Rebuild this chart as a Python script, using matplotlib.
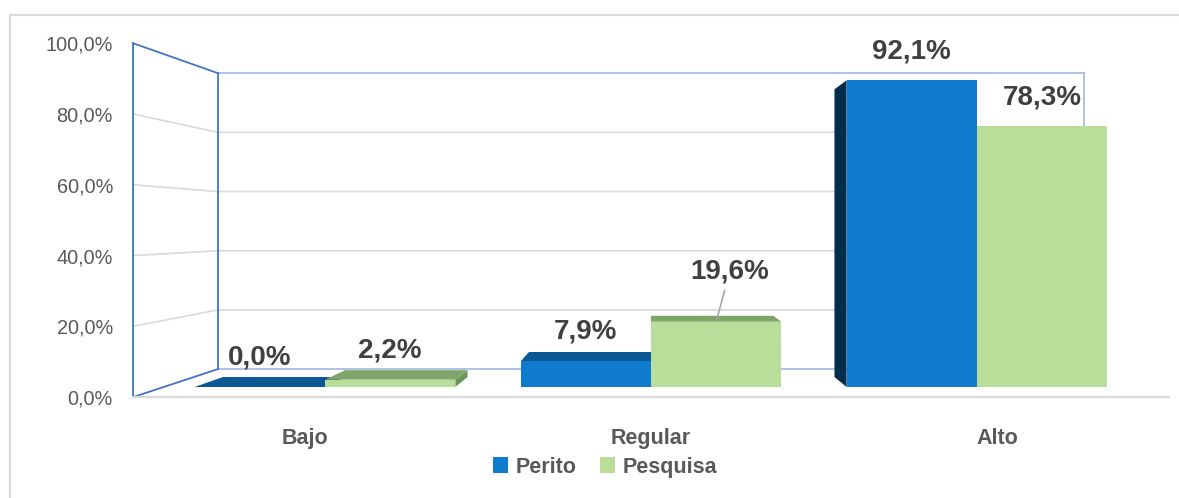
import matplotlib
matplotlib.use("Agg")
import matplotlib.pyplot as plt
from matplotlib.patches import Polygon, Patch
from matplotlib.lines import Line2D

# ---------------- data ----------------
categories = ["Bajo", "Regular", "Alto"]
perito = [0.0, 7.9, 92.1]
pesquisa = [2.2, 19.6, 78.3]
series_names = ["Perito", "Pesquisa"]
yticks = [0, 20, 40, 60, 80, 100]

# ---------------- style ----------------
plt.rcParams['font.family'] = ['Liberation Sans Narrow', 'Liberation Sans', 'DejaVu Sans']
C_PER = "#0F7BCE"
C_PER_TOP = "#0B5894"
C_PER_SIDE = "#022D4D"
C_PES = "#B8DE99"
C_PES_TOP = "#80A56B"
C_PES_SIDE = "#6C9657"
C_GRID = "#D9D9D9"
C_WALL = "#4472C4"
C_WALL2 = "#A9BDE3"
C_TXT = "#595959"
C_LBL = "#404040"

W, H = 1179, 498
fig = plt.figure(figsize=(W / 100, H / 100), dpi=100)
ax = fig.add_axes([0, 0, 1, 1])
# axes limits chosen so bars' front plane sits where the reference draws it
ax.set_xlim(-325 / 326, (W - 325) / 326)
ax.set_ylim((387 - H) / 3.33, 387 / 3.33)
ax.axis("off")

# perspective: vanishing point and depths (fraction toward the vanishing point)
VX, VY = 1.0, 48.3
D_FRONT, D_BACK = -0.063, 0.111
D_BAR = 0.062
XL, XR = -0.495, 2.495


def proj(x, y, d):
    return (VX + (1 - d) * (x - VX), VY + (1 - d) * (y - VY))


# ---------------- walls & gridlines ----------------
for v in yticks:
    fl = proj(XL, v, D_FRONT)
    bl = proj(XL, v, D_BACK)
    br = proj(XR, v, D_BACK)
    if v in (0, 100):
        ax.plot([fl[0], bl[0]], [fl[1], bl[1]], color=C_WALL, lw=1.3, zorder=2)
        ax.plot([bl[0], br[0]], [bl[1], br[1]], color=C_WALL2, lw=1.3, zorder=1)
    else:
        ax.plot([fl[0], bl[0], br[0]], [fl[1], bl[1], br[1]], color=C_GRID, lw=1.2, zorder=1)

# vertical wall edges
for d, c in ((D_FRONT, C_WALL), (D_BACK, C_WALL)):
    p0, p1 = proj(XL, 0, d), proj(XL, 100, d)
    ax.plot([p0[0], p1[0]], [p0[1], p1[1]], color=c, lw=1.3, zorder=2)
p0, p1 = proj(XR, 0, D_BACK), proj(XR, 100, D_BACK)
ax.plot([p0[0], p1[0]], [p0[1], p1[1]], color=C_WALL2, lw=1.3, zorder=1)

# floor front edge (category axis line)
p0, p1 = proj(XL, 0, D_FRONT), proj(XR, 0, D_FRONT)
ax.plot([p0[0], p1[0]], [p0[1], p1[1]], color=C_GRID, lw=1.6, zorder=2)

# ---------------- bars ----------------
bw = 0.4
xs = list(range(len(categories)))
series = [
    (perito, -bw / 2, C_PER, C_PER_TOP, C_PER_SIDE, series_names[0]),
    (pesquisa, bw / 2, C_PES, C_PES_TOP, C_PES_SIDE, series_names[1]),
]

# side and top faces
for vals, off, cf, ct, cs, _ in series:
    for i, v in zip(xs, vals):
        xl, xr = i + off - bw / 2, i + off + bw / 2
        if xl > VX:
            poly = [proj(xl, 0, 0), proj(xl, v, 0), proj(xl, v, D_BAR), proj(xl, 0, D_BAR)]
            ax.add_patch(Polygon(poly, closed=True, fc=cs, ec="none", zorder=3))
        if xr < VX:
            poly = [proj(xr, 0, 0), proj(xr, v, 0), proj(xr, v, D_BAR), proj(xr, 0, D_BAR)]
            ax.add_patch(Polygon(poly, closed=True, fc=cs, ec="none", zorder=3))
        if v < VY:
            poly = [proj(xl, v, 0), proj(xr, v, 0), proj(xr, v, D_BAR), proj(xl, v, D_BAR)]
            ax.add_patch(Polygon(poly, closed=True, fc=ct, ec="none", zorder=3))

# front faces
for vals, off, cf, ct, cs, name in series:
    ax.bar([i + off for i in xs], vals, width=bw, color=cf, label=name, zorder=4)

# ---------------- data labels ----------------
label_offsets = {(1, 1): (9.7, 36.0)}  # (series, category) -> offset in points
for si, (vals, off, *_rest) in enumerate(series):
    for i, v in zip(xs, vals):
        txt = f"{v:.1f}".replace(".", ",") + "%"
        dx, dy = label_offsets.get((si, i), (0, 20.9))
        kw = {}
        if (si, i) in label_offsets:
            kw["arrowprops"] = dict(arrowstyle="-", color="#A6A6A6", lw=1.2,
                                    shrinkA=2, shrinkB=0)
        ax.annotate(txt, xy=(i + off, v), xytext=(dx, dy), textcoords="offset points",
                    ha="center", va="center", fontsize=20, fontweight="bold",
                    color=C_LBL, zorder=6, **kw)

# ---------------- axis tick labels ----------------
for v in yticks:
    p = proj(XL, v, D_FRONT)
    ax.annotate(f"{v:.1f}".replace(".", ",") + "%", xy=p, xytext=(-14.4, -1.5),
                textcoords="offset points", ha="right", va="center",
                fontsize=14.3, color=C_TXT)

for i, c in zip(xs, categories):
    p = proj(i, 0, D_FRONT)
    ax.annotate(c, xy=p, xytext=(0, -29.5), textcoords="offset points",
                ha="center", va="center", fontsize=15.5, fontweight="bold", color=C_TXT)

# ---------------- legend ----------------
handles = [Patch(facecolor=C_PER), Patch(facecolor=C_PES)]
leg = fig.legend(handles, series_names, loc="center", bbox_to_anchor=(605 / W, 1 - 467 / H),
                 ncol=2, frameon=False, handlelength=0.7, handleheight=0.7,
                 handletextpad=0.35, columnspacing=1.1,
                 prop=dict(size=15.5, weight="bold"))
for t in leg.get_texts():
    t.set_color(C_TXT)

# ---------------- chart border ----------------
fig.add_artist(Line2D([10 / W, 1], [1 - 15 / H, 1 - 15 / H], transform=fig.transFigure,
                      color=C_GRID, lw=1.5))
fig.add_artist(Line2D([10 / W, 10 / W], [0, 1 - 15 / H], transform=fig.transFigure,
                      color=C_GRID, lw=1.5))

fig.savefig("out.png", dpi=100, facecolor="white")
